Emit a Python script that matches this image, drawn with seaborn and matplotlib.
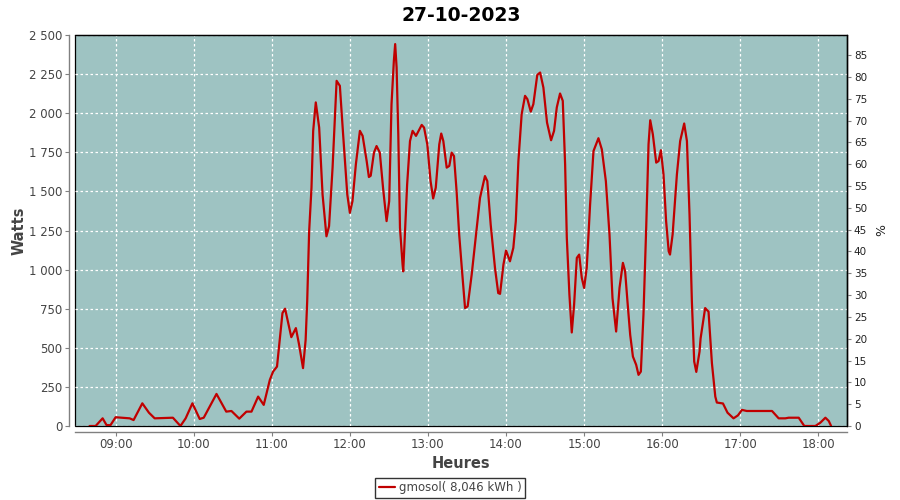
import matplotlib
matplotlib.use("Agg")
import matplotlib.pyplot as plt
import matplotlib.dates as mdates
from matplotlib.ticker import FuncFormatter, MultipleLocator
import seaborn as sns
import pandas as pd

# ─── Data ─────────────────────────────────────────────────────────────────
DAY = "2023-10-27"
TITLE = "27-10-2023"
SERIES_LABEL = "gmosol( 8,046 kWh )"

times = [
    "08:40:00", "08:44:36", "08:50:00", "08:53:00", "08:56:00", "09:00:00",
    "09:10:48", "09:13:48", "09:20:30", "09:25:36", "09:30:00", "09:44:00",
    "09:49:48", "09:53:48", "09:59:00", "10:04:36", "10:07:42", "10:17:30",
    "10:25:00", "10:29:00", "10:35:00", "10:40:30", "10:44:24", "10:49:30",
    "10:53:48", "10:58:30", "11:01:00", "11:04:00", "11:08:12", "11:10:12",
    "11:15:00", "11:18:30", "11:21:00", "11:24:00", "11:26:00", "11:27:12",
    "11:28:42", "11:30:30", "11:31:48", "11:33:48", "11:36:24", "11:39:00",
    "11:42:00", "11:44:00", "11:46:42", "11:49:48", "11:52:18", "11:54:48",
    "11:58:00", "12:00:00", "12:02:00", "12:04:36", "12:07:42", "12:09:48",
    "12:12:54", "12:14:36", "12:16:00", "12:18:30", "12:20:30", "12:23:00",
    "12:25:36", "12:28:12", "12:30:12", "12:32:00", "12:33:48", "12:34:48",
    "12:35:54", "12:37:12", "12:38:30", "12:40:30", "12:41:00", "12:42:18",
    "12:44:00", "12:46:12", "12:48:12", "12:50:48", "12:55:12", "12:57:00",
    "12:59:30", "13:02:00", "13:04:00", "13:06:00", "13:08:42", "13:10:12",
    "13:11:48", "13:14:24", "13:16:24", "13:18:12", "13:20:00", "13:22:00",
    "13:24:00", "13:26:00", "13:28:30", "13:30:30", "13:33:36", "13:36:54",
    "13:40:00", "13:43:48", "13:45:36", "13:48:12", "13:51:30", "13:54:00",
    "13:55:24", "13:58:00", "14:00:00", "14:03:00", "14:05:36", "14:07:30",
    "14:09:30", "14:12:00", "14:14:36", "14:16:24", "14:19:00", "14:21:00",
    "14:24:00", "14:26:12", "14:28:42", "14:31:30", "14:34:36", "14:36:54",
    "14:39:00", "14:41:30", "14:43:36", "14:45:24", "14:46:42", "14:48:42",
    "14:50:30", "14:52:18", "14:54:24", "14:56:12", "14:58:12", "15:00:00",
    "15:02:00", "15:04:36", "15:07:12", "15:11:00", "15:13:36", "15:16:42",
    "15:19:30", "15:21:48", "15:24:36", "15:27:12", "15:29:48", "15:31:30",
    "15:33:18", "15:35:24", "15:37:30", "15:40:00", "15:41:48", "15:43:36",
    "15:45:36", "15:47:42", "15:49:30", "15:50:48", "15:52:48", "15:55:24",
    "15:57:12", "15:59:00", "16:01:00", "16:03:00", "16:05:00", "16:06:00",
    "16:08:00", "16:11:18", "16:13:48", "16:16:54", "16:19:00", "16:21:00",
    "16:22:48", "16:24:36", "16:26:12", "16:28:42", "16:29:30", "16:33:00",
    "16:35:36", "16:38:12", "16:40:48", "16:42:00", "16:46:42", "16:50:12",
    "16:54:48", "16:58:12", "17:01:18", "17:05:00", "17:24:24", "17:29:30",
    "17:34:36", "17:37:12", "17:44:54", "17:49:12", "17:57:42", "18:01:30",
    "18:05:24", "18:08:00", "18:09:48",
]

watts = [
    0, 0, 49, 6, 5, 56,
    49, 38, 145, 85, 49, 53,
    0, 49, 145, 45, 53, 205,
    92, 96, 47, 92, 92, 188,
    135, 295, 348, 380, 722, 750,
    568, 626, 519, 370, 551, 797,
    1245, 1524, 1887, 2069, 1908, 1481,
    1213, 1278, 1652, 2207, 2175, 1865,
    1481, 1363, 1438, 1673, 1887, 1855,
    1694, 1592, 1600, 1748, 1790, 1748,
    1513, 1310, 1438, 2058, 2335, 2442,
    2293, 1865, 1267, 1032, 989, 1224,
    1545, 1822, 1887, 1855, 1925, 1908,
    1801, 1566, 1455, 1524, 1801, 1870,
    1822, 1652, 1663, 1748, 1726, 1502,
    1224, 1011, 754, 765, 968, 1224,
    1459, 1598, 1566, 1288, 1011, 850,
    845, 1032, 1122, 1053, 1139, 1310,
    1694, 1994, 2111, 2090, 2010, 2058,
    2245, 2260, 2164, 1940, 1827, 1887,
    2037, 2126, 2079, 1673, 1203, 840,
    598, 776, 1075, 1096, 947, 883,
    1011, 1417, 1758, 1840, 1769, 1566,
    1224, 818, 604, 883, 1043, 990,
    797, 583, 444, 391, 327, 348,
    711, 1267, 1801, 1955, 1865, 1684,
    1694, 1763, 1609, 1310, 1117, 1096,
    1224, 1609, 1822, 1934, 1822, 1352,
    797, 412, 346, 476, 560, 754,
    731, 402, 188, 150, 144, 85,
    49, 68, 103, 96, 96, 49,
    49, 53, 53, 0, 0, 21,
    53, 32, 0,
]

# axis ranges
x_start, x_end = "08:28:45", "18:22:00"
watt_max = 2500
pct_max = 89.6

# ─── Style ────────────────────────────────────────────────────────────────
sns.set_style("white")
plt.rcParams['font.family'] = ['DejaVu Sans']

BG = '#9ec3c2'
LINE = '#c00000'
AXIS_GREY = '#808080'
TEXT_GREY = '#444444'

df = pd.DataFrame({
    'time': pd.to_datetime([f"{DAY} {t}" for t in times]),
    'watts': watts,
})

fig = plt.figure(figsize=(9, 5), dpi=100)
ax = fig.add_axes([0.0833, 0.148, 0.8578, 0.782])
ax.set_facecolor(BG)

sns.lineplot(data=df, x='time', y='watts', ax=ax, color=LINE, linewidth=1.6,
             label=SERIES_LABEL, legend=False)

ax.set_xlim(pd.Timestamp(f"{DAY} {x_start}"), pd.Timestamp(f"{DAY} {x_end}"))
ax.set_ylim(0, watt_max)
ax.xaxis.set_major_locator(mdates.HourLocator())
ax.xaxis.set_major_formatter(mdates.DateFormatter('%H:%M'))
ax.yaxis.set_major_locator(MultipleLocator(250))
ax.yaxis.set_major_formatter(FuncFormatter(lambda v, p: f"{int(v):,}".replace(',', ' ')))

ax.grid(True, color='white', linestyle=(0, (2, 2)), linewidth=0.9)
ax.set_axisbelow(True)

# plot outline black, axis lines grey and detached
for side in ['top', 'right']:
    ax.spines[side].set_color('black')
    ax.spines[side].set_linewidth(0.9)
for side in ['left', 'bottom']:
    ax.spines[side].set_color(AXIS_GREY)
    ax.spines[side].set_linewidth(1.0)
    ax.spines[side].set_position(('outward', 4))
ax.patch.set_edgecolor('black')
ax.patch.set_linewidth(0.9)

ax.tick_params(axis='both', which='major', direction='out', length=3, width=0.8,
               color=AXIS_GREY, labelsize=8.5, labelcolor=TEXT_GREY, pad=2,
               left=True, bottom=True)
ax.set_xlabel('Heures', fontsize=10.5, fontweight='bold', color=TEXT_GREY, labelpad=3)
ax.set_ylabel('Watts', fontsize=10.5, fontweight='bold', color=TEXT_GREY, labelpad=2)
ax.set_title(TITLE, fontsize=13.5, fontweight='bold', color='black', pad=10)

# right percentage axis
ax2 = ax.twinx()
ax2.set_ylim(0, pct_max)
ax2.yaxis.set_major_locator(MultipleLocator(5))
ax2.tick_params(axis='y', direction='out', length=3, width=0.8, color=AXIS_GREY,
                labelsize=7.5, labelcolor='#222222', pad=2, right=True)
for side in ['left', 'top', 'bottom']:
    ax2.spines[side].set_visible(False)
ax2.spines['right'].set_color('black')
ax2.spines['right'].set_linewidth(0.9)
ax2.set_ylabel('%', fontsize=9, color='#222222', labelpad=6)
ax2.grid(False)

# legend box below the chart
handles, labels = ax.get_legend_handles_labels()
leg = fig.legend(handles, labels, loc='center', bbox_to_anchor=(0.5, 1 - 488 / 500),
                 frameon=True, fancybox=False, fontsize=8.5, handlelength=1.4,
                 handletextpad=0.3, borderpad=0.3, borderaxespad=0)
leg.get_frame().set_edgecolor('black')
leg.get_frame().set_linewidth(1.0)
for t in leg.get_texts():
    t.set_color(TEXT_GREY)

fig.savefig('out.png', dpi=100)
